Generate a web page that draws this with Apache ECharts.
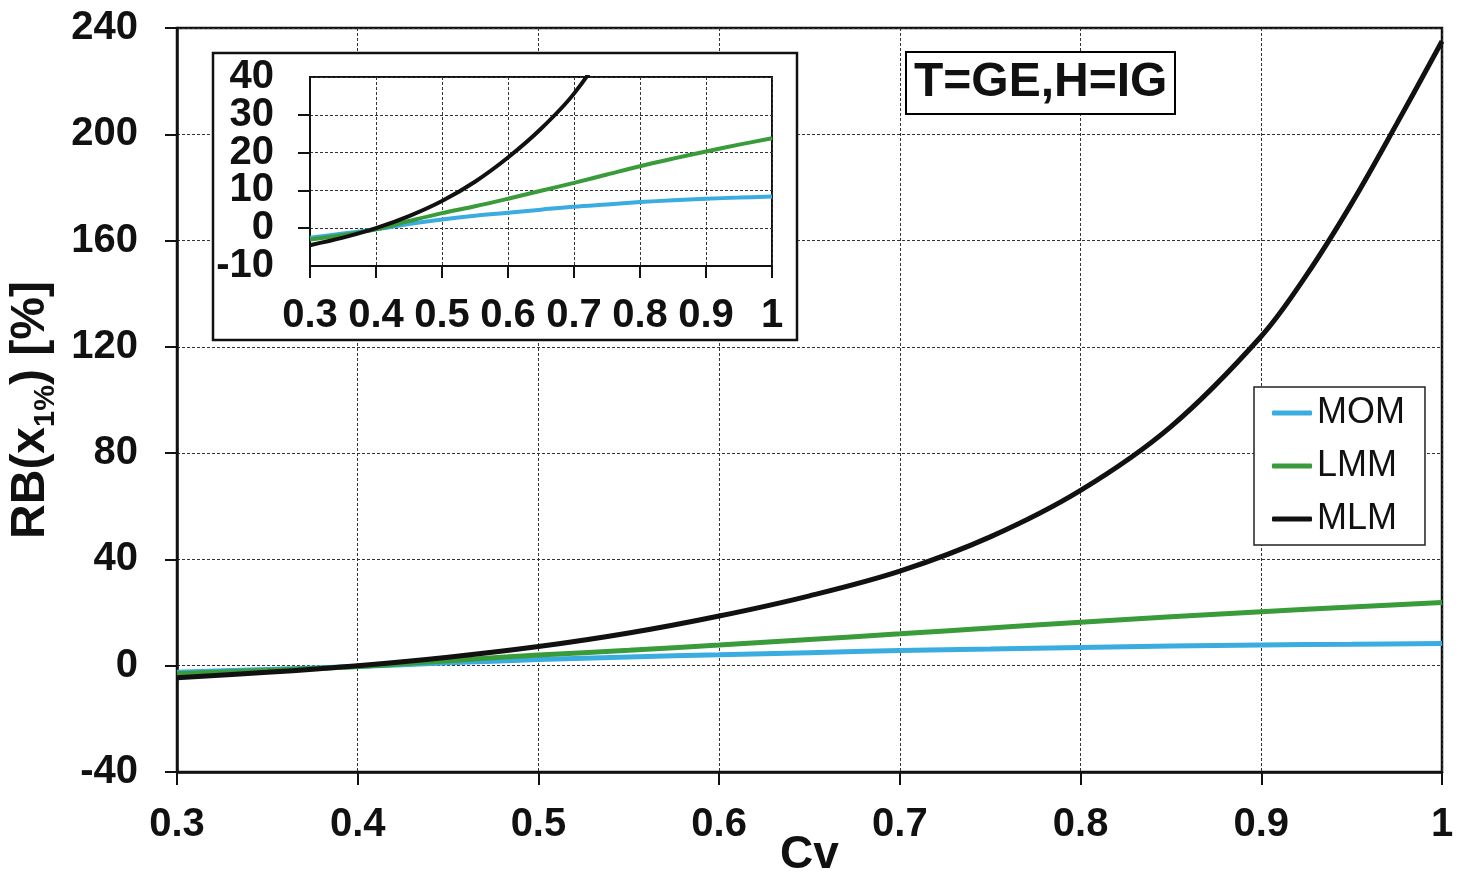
<!DOCTYPE html>
<html>
<head>
<meta charset="utf-8">
<title>RB(x1%) T=GE,H=IG</title>
<script src="https://cdn.jsdelivr.net/npm/echarts@6/dist/echarts.min.js"></script>
<style>
  html, body { margin: 0; padding: 0; background: #fff; }
  #chart { width: 1463px; height: 877px; }
</style>
</head>
<body>
<div id="chart"></div>
<script>
// Cv values and the RB(x1%) readings per method
const cv = [0.30, 0.35, 0.40, 0.45, 0.50, 0.55, 0.60, 0.65, 0.70, 0.75, 0.80, 0.85, 0.90, 0.95, 1.00];
const mom = [-2.5, -1.4, -0.3, 1.1, 2.3, 3.3, 4.1, 4.9, 5.7, 6.3, 6.9, 7.4, 7.8, 8.1, 8.4];
const lmm = [-3.0, -1.8, -0.3, 1.9, 4.0, 5.8, 7.8, 9.9, 12.0, 14.2, 16.4, 18.4, 20.3, 22.1, 23.8];
// MLM is steeper, read with a couple of extra points near the end
const mlmCv = [0.30, 0.35, 0.40, 0.45, 0.50, 0.55, 0.60, 0.65, 0.70, 0.75, 0.80, 0.85, 0.90, 0.925, 0.95, 0.975, 1.00];
const mlm = [-4.5, -2.5, 0, 3.2, 7.2, 12.3, 18.7, 26.3, 35.6, 48.5, 66, 90, 124, 147, 174, 204, 235];

const names = ['MOM', 'LMM', 'MLM'];
const colors = ['#3aace0', '#3a9b3a', '#111111'];

const FONT = "'Liberation Sans', Arial, sans-serif";

function zip(xs, ys) {
  return xs.map((x, i) => [x, ys[i]]);
}

const seriesData = [zip(cv, mom), zip(cv, lmm), zip(mlmCv, mlm)];

let chartDom = document.getElementById('chart');
let myChart = echarts.init(chartDom);

const tickLabel = {
  fontFamily: FONT, fontSize: 40, fontWeight: 'bold', color: '#111',
  showMinLabel: true, showMaxLabel: true, hideOverlap: false
};
const dashed = { show: true, lineStyle: { color: '#333', width: 1, type: [3, 2] } };

function makeSeries(gridIdx, axisIdx, width, z) {
  return names.map((n, i) => ({
    name: n,
    type: 'line',
    xAxisIndex: gridIdx,
    yAxisIndex: axisIdx,
    data: seriesData[i],
    smooth: 0.35,
    showSymbol: false,
    symbol: 'none',
    clip: true,
    z: z,
    lineStyle: { color: colors[i], width: width },
    itemStyle: { color: colors[i] }
  }));
}

let option = {
  backgroundColor: '#fff',
  animation: false,
  title: {
    text: 'T=GE,H=IG',
    left: 906,
    top: 52,
    padding: [5, 8, 5, 8],
    borderColor: '#000',
    borderWidth: 2,
    backgroundColor: '#fff',
    textStyle: { fontFamily: FONT, fontSize: 48, fontWeight: 'bold', color: '#111', lineHeight: 52 }
  },
  legend: {
    data: names,
    orient: 'vertical',
    left: 1254,
    top: 387,
    padding: [8, 20, 8, 18],
    itemGap: 17,
    itemWidth: 40,
    itemHeight: 5,
    icon: 'roundRect',
    borderColor: '#222',
    borderWidth: 1.5,
    backgroundColor: '#fff',
    textStyle: { fontFamily: FONT, fontSize: 36, color: '#111', lineHeight: 36 }
  },
  grid: [
    { left: 177, right: 21, top: 28, bottom: 105, outerBoundsMode: 'none', containLabel: false,
      show: true, borderColor: '#111', borderWidth: 2.5 },
    { left: 310, top: 77, width: 462, height: 189, outerBoundsMode: 'none', containLabel: false,
      show: true, borderColor: '#111', borderWidth: 2, z: 10 }
  ],
  xAxis: [
    {
      type: 'value', gridIndex: 0, min: 0.3, max: 1, interval: 0.1,
      name: 'Cv', nameLocation: 'middle', nameGap: 60, nameMoveOverlap: false,
      nameTextStyle: { fontFamily: FONT, fontSize: 46, fontWeight: 'bold', color: '#111' },
      axisLine: { show: true, onZero: false, lineStyle: { color: '#111', width: 2.5 } },
      axisTick: { show: true, inside: false, length: 13, lineStyle: { color: '#111', width: 2 } },
      axisLabel: Object.assign({ margin: 33 }, tickLabel),
      splitLine: dashed
    },
    {
      type: 'value', gridIndex: 1, min: 0.3, max: 1, interval: 0.1, z: 10,
      axisLine: { show: true, onZero: false, lineStyle: { color: '#111', width: 2 } },
      axisTick: { show: true, inside: false, length: 12, lineStyle: { color: '#111', width: 2 } },
      axisLabel: Object.assign({ margin: 30 }, tickLabel),
      splitLine: dashed
    }
  ],
  yAxis: [
    {
      type: 'value', gridIndex: 0, min: -40, max: 240, interval: 40,
      name: '{a|RB(x}{s|1%}{a|) [%]}', nameLocation: 'middle', nameRotate: 90, nameGap: 122,
      nameTextStyle: {
        padding: [0, 20, 0, 0],
        rich: {
          a: { fontFamily: FONT, fontSize: 48, fontWeight: 'bold', color: '#111' },
          s: { fontFamily: FONT, fontSize: 29, fontWeight: 'bold', color: '#111', verticalAlign: 'bottom', padding: [0, 0, -6, 0] }
        }
      },
      axisLine: { show: true, onZero: false, lineStyle: { color: '#111', width: 2.5 } },
      axisTick: { show: true, inside: false, length: 12, lineStyle: { color: '#111', width: 2 } },
      axisLabel: Object.assign({ margin: 39 }, tickLabel),
      splitLine: dashed
    },
    // inset: inner ticks 0..30 (min/max labels off, so none get dropped for overlap)
    {
      type: 'value', gridIndex: 1, min: -10, max: 40, interval: 10, z: 10,
      axisLine: { show: true, onZero: false, lineStyle: { color: '#111', width: 2 } },
      axisTick: { show: true, inside: false, length: 12, lineStyle: { color: '#111', width: 2 } },
      axisLabel: Object.assign({}, tickLabel, { margin: 36, showMinLabel: false, showMaxLabel: false }),
      splitLine: dashed
    },
    // inset: the two end labels -10 and 40
    {
      type: 'value', gridIndex: 1, position: 'left', offset: 0, min: -10, max: 40, interval: 50, z: 10,
      axisLine: { show: false },
      axisTick: { show: false },
      axisLabel: Object.assign({}, tickLabel, { margin: 36 }),
      splitLine: { show: false }
    }
  ],
  graphic: [
    {
      type: 'rect',
      z: 4,
      shape: { x: 213, y: 53, width: 584, height: 287 },
      style: { fill: '#fff', stroke: '#111', lineWidth: 2.5 }
    }
  ],
  series: makeSeries(0, 0, 5, 2).concat(makeSeries(1, 1, 4, 12))
};

myChart.setOption(option);
</script>
</body>
</html>
